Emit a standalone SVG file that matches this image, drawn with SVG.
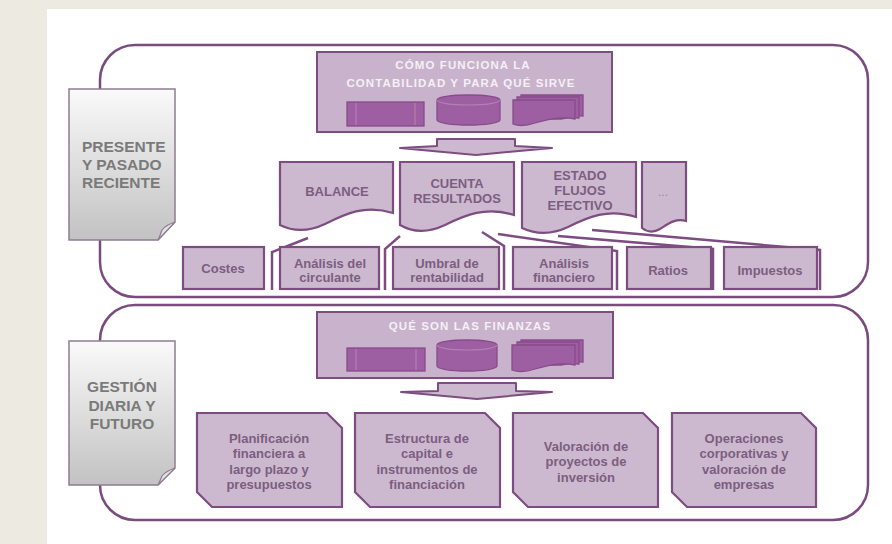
<svg xmlns="http://www.w3.org/2000/svg" width="892" height="544" viewBox="0 0 892 544">
<defs>
<linearGradient id="gdoc" x1="0" y1="0" x2="0" y2="1">
<stop offset="0" stop-color="#FAFAFA"/>
<stop offset="1" stop-color="#C2C2C2"/>
</linearGradient>
<style>
.cont{fill:none;stroke:#7A4C7E;stroke-width:2.5}
.lbl{fill:url(#gdoc);stroke:#8E7E90;stroke-width:1.5}
.fold{fill:#E4E4E4;stroke:#8E7E90;stroke-width:1.2}
.lt{font-family:"Liberation Sans",Arial,sans-serif;font-weight:bold;font-size:15.5px;fill:#7A7A7A}
.hdr{fill:#C9B2CC;stroke:#7D4C81;stroke-width:2}
.ht{font-family:"Liberation Sans",Arial,sans-serif;font-weight:bold;font-size:11.5px;fill:#F5F0F5;letter-spacing:1.1px;text-anchor:middle}
.ic{fill:#9E5FA2;stroke:#874B8B;stroke-width:1.3}
.icl{fill:none;stroke:#B27FB5;stroke-width:1.2}
.box{fill:#CDB9CF;stroke:#7D4C81;stroke-width:2.2}
.t{font-family:"Liberation Sans",Arial,sans-serif;font-weight:bold;font-size:13px;fill:#7B5E80;text-anchor:middle}
.dots{font-family:"Liberation Sans",Arial,sans-serif;font-size:12px;fill:#9A8A9C;text-anchor:middle}
.arr{fill:#CDB9CF;stroke:#7D4C81;stroke-width:2;stroke-linejoin:round}
.con{fill:none;stroke:#7D4C81;stroke-width:2.5}
</style>
</defs>
<rect x="0" y="0" width="892" height="544" fill="#EDEAE2"/>
<rect x="47" y="9" width="845" height="535" fill="#FFFFFF"/>

<g id="container-top"><rect class="cont" x="100" y="45" width="768" height="252" rx="35" ry="35"/></g>
<g id="container-bottom"><rect class="cont" x="100" y="305" width="768" height="215" rx="35" ry="35"/></g>

<g id="label-presente">
<path class="lbl" d="M69,89 H175 V222 L158,240 H69 Z"/>
<path class="fold" d="M175,222 Q166,225 162,230 Q160,236 158,240 Z"/>
<text class="lt" x="82" y="152">PRESENTE</text>
<text class="lt" x="82" y="170">Y PASADO</text>
<text class="lt" x="82" y="188">RECIENTE</text>
</g>

<g id="label-gestion">
<path class="lbl" d="M69,341 H175 V468 L158,485 H69 Z"/>
<path class="fold" d="M175,468 Q166,471 162,476 Q160,481 158,485 Z"/>
<text class="lt" x="122" y="392" text-anchor="middle">GESTIÓN</text>
<text class="lt" x="122" y="411" text-anchor="middle">DIARIA Y</text>
<text class="lt" x="122" y="429" text-anchor="middle">FUTURO</text>
</g>

<g id="header-contabilidad">
<rect class="hdr" x="317" y="52" width="295" height="80"/>
<text class="ht" x="463" y="69">CÓMO FUNCIONA LA</text>
<text class="ht" x="461" y="87">CONTABILIDAD Y PARA QUÉ SIRVE</text>
<rect class="ic" x="347" y="102" width="77" height="24"/>
<line class="icl" x1="356" y1="103" x2="356" y2="125"/>
<line class="icl" x1="415" y1="103" x2="415" y2="125"/>
<path class="ic" d="M437,100 A31.5,5 0 0 1 500,100 V120 A31.5,5 0 0 1 437,120 Z"/>
<path class="icl" d="M437,100 A31.5,5 0 0 0 500,100"/>
<path class="ic" d="M521,95 H583 V116 C575,115 570,116 565,117 L521,117 Z"/>
<path class="ic" d="M517,97 H579 V118 C571,117 566,118 561,119 L517,119 Z"/>
<path class="ic" d="M513,100 H575 V119 C562,116 548,119 535,123 C526,126 518,126 513,124 Z"/>
</g>

<g id="arrow-top"><path class="arr" d="M437,139 H515 V146 L552,148 L476,155 L400,148 L437,146 Z"/></g>

<g id="doc-balance">
<path class="box" d="M280,162 H393 V213 C365,204 345,214 325,224 C308,232 292,231 280,225 Z"/>
<text class="t" x="337" y="195.5">BALANCE</text>
</g>
<g id="doc-cuenta">
<path class="box" d="M400,162 H514 V215 C486,206 465,215 445,225 C428,233 412,232 400,225 Z"/>
<text class="t" x="457" y="187.5">CUENTA</text>
<text class="t" x="457" y="202.5">RESULTADOS</text>
</g>
<g id="doc-estado">
<path class="box" d="M522,162 H636 V217 C608,208 588,217 568,227 C551,235 535,234 522,228 Z"/>
<text class="t" x="580" y="179.5">ESTADO</text>
<text class="t" x="580" y="194.5">FLUJOS</text>
<text class="t" x="580" y="209.5">EFECTIVO</text>
</g>
<g id="doc-dots">
<path class="box" d="M642,162 H686 V221 C675,218 668,224 660,229 C653,233 647,232 642,228 Z"/>
<text class="dots" x="663" y="196">...</text>
</g>

<g id="connectors">
<polyline class="con" points="308,238 272,252 272,290"/>
<polyline class="con" points="400,236 385,249 385,290"/>
<polyline class="con" points="482,232 504,246 504,290"/>
<polyline class="con" points="498,234 617,251 617,290"/>
<polyline class="con" points="558,236 713,249 713,290"/>
<polyline class="con" points="592,230 820,250 820,290"/>
</g>

<g id="box-costes">
<rect class="box" x="183" y="247" width="81" height="42"/>
<text class="t" x="223" y="272.5">Costes</text>
</g>
<g id="box-circulante">
<rect class="box" x="280" y="247" width="99" height="42"/>
<text class="t" x="330" y="267.5">Análisis del</text>
<text class="t" x="330" y="281.5">circulante</text>
</g>
<g id="box-umbral">
<rect class="box" x="393" y="247" width="106" height="42"/>
<text class="t" x="447" y="267.5">Umbral de</text>
<text class="t" x="447" y="281.5">rentabilidad</text>
</g>
<g id="box-analisis-fin">
<rect class="box" x="513" y="247" width="99" height="42"/>
<text class="t" x="564" y="267.5">Análisis</text>
<text class="t" x="564" y="281.5">financiero</text>
</g>
<g id="box-ratios">
<rect class="box" x="627" y="247" width="84" height="42"/>
<text class="t" x="668" y="274.5">Ratios</text>
</g>
<g id="box-impuestos">
<rect class="box" x="724" y="247" width="93" height="42"/>
<text class="t" x="770" y="274.5">Impuestos</text>
</g>

<g id="header-finanzas">
<rect class="hdr" x="317" y="312" width="296" height="66"/>
<text class="ht" x="470" y="330">QUÉ SON LAS FINANZAS</text>
<rect class="ic" x="347" y="348" width="78" height="23"/>
<line class="icl" x1="356" y1="349" x2="356" y2="370"/>
<line class="icl" x1="416" y1="349" x2="416" y2="370"/>
<path class="ic" d="M437,345 A30,5 0 0 1 497,345 V366 A30,5 0 0 1 437,366 Z"/>
<path class="icl" d="M437,345 A30,5 0 0 0 497,345"/>
<path class="ic" d="M521,340 H583 V362 C575,361 570,362 565,363 L521,363 Z"/>
<path class="ic" d="M517,342 H579 V364 C571,363 566,364 561,365 L517,365 Z"/>
<path class="ic" d="M512,345 H575 V365 C562,362 548,365 535,369 C526,372 517,372 512,370 Z"/>
</g>

<g id="arrow-bottom"><path class="arr" d="M438,383 H516 V391 L552,392 L477,399 L401,392 L438,391 Z"/></g>

<g id="box-planificacion">
<path class="box" d="M197,413 H327 L342,428 V507 H212 L197,492 Z"/>
<text class="t" x="269" y="443">Planificación</text>
<text class="t" x="269" y="458">financiera a</text>
<text class="t" x="269" y="474">largo plazo y</text>
<text class="t" x="269" y="489">presupuestos</text>
</g>
<g id="box-estructura">
<path class="box" d="M355,413 H485 L500,428 V507 H370 L355,492 Z"/>
<text class="t" x="427" y="443">Estructura de</text>
<text class="t" x="427" y="458">capital e</text>
<text class="t" x="427" y="474">instrumentos de</text>
<text class="t" x="427" y="489">financiación</text>
</g>
<g id="box-valoracion">
<path class="box" d="M513,413 H643 L658,428 V507 H528 L513,492 Z"/>
<text class="t" x="586" y="450.5">Valoración de</text>
<text class="t" x="586" y="465.5">proyectos de</text>
<text class="t" x="586" y="481.5">inversión</text>
</g>
<g id="box-operaciones">
<path class="box" d="M672,413 H801 L816,428 V507 H687 L672,492 Z"/>
<text class="t" x="744" y="443">Operaciones</text>
<text class="t" x="744" y="458">corporativas y</text>
<text class="t" x="744" y="474">valoración de</text>
<text class="t" x="744" y="489">empresas</text>
</g>
</svg>
